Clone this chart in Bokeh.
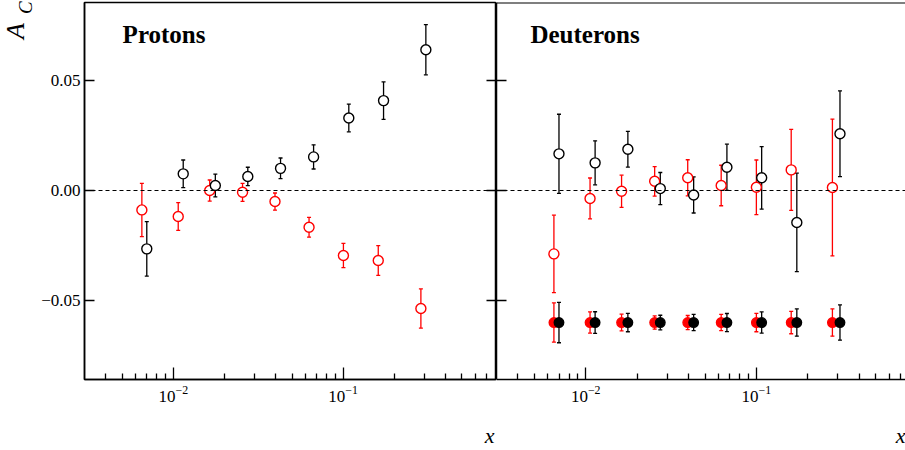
from bokeh.plotting import figure
from bokeh.layouts import row
from bokeh.models import (ColumnDataSource, Whisker, TeeHead, Span, Label, Range1d, Div,
                          FixedTicker, LinearAxis, LogAxis, CustomJSTickFormatter,
                          LogTickFormatter)
from bokeh.embed import file_html
from bokeh.resources import INLINE

# ---------------- data ----------------
prot_x_black = [0.00698, 0.01144, 0.01768, 0.02746, 0.0428, 0.0670, 0.108, 0.173, 0.307]
prot_y_black = [-0.0265, 0.0076, 0.0023, 0.0064, 0.0101, 0.0153, 0.0330, 0.0409, 0.0640]
prot_e_black = [0.0124, 0.0063, 0.0052, 0.0042, 0.0047, 0.0055, 0.0063, 0.0085, 0.0114]

prot_x_red = [0.00653, 0.01069, 0.01638, 0.02557, 0.0397, 0.0630, 0.1004, 0.161, 0.287]
prot_y_red = [-0.0088, -0.0118, 0.0000, -0.0008, -0.0050, -0.0167, -0.0295, -0.0318, -0.0536]
prot_e_red = [0.0121, 0.0063, 0.0048, 0.0041, 0.0039, 0.0045, 0.0055, 0.0068, 0.0089]

deut_x_black = [0.00697, 0.01135, 0.01766, 0.02735, 0.0429, 0.0672, 0.1074, 0.1726, 0.309]
deut_y_black = [0.0167, 0.0126, 0.0188, 0.0009, -0.0020, 0.0106, 0.0058, -0.0145, 0.0258]
deut_e_black = [0.0180, 0.0100, 0.0081, 0.0073, 0.0082, 0.0105, 0.0142, 0.0224, 0.0195]

deut_x_red = [0.00651, 0.0106, 0.01622, 0.02535, 0.0396, 0.0622, 0.1000, 0.160, 0.279]
deut_y_red = [-0.0288, -0.0036, -0.0003, 0.0042, 0.0058, 0.0023, 0.0015, 0.0094, 0.0014]
deut_e_red = [0.0176, 0.0093, 0.0073, 0.0067, 0.0082, 0.0092, 0.0124, 0.0184, 0.0311]

# systematic uncertainties (drawn at a fixed offset)
syst_y = [-0.06, -0.06, -0.06, -0.06, -0.06, -0.06, -0.06, -0.06, -0.06]
syst_e_red = [0.0089, 0.0048, 0.0038, 0.0030, 0.0032, 0.0037, 0.0042, 0.0051, 0.0062]
syst_e_black = [0.0092, 0.0049, 0.0042, 0.0033, 0.0037, 0.0041, 0.0048, 0.0062, 0.0080]

x_major_ticks = [0.01, 0.1]
x_minor_ticks = [0.004, 0.005, 0.006, 0.007, 0.008, 0.009,
                 0.02, 0.03, 0.04, 0.05, 0.06, 0.07, 0.08, 0.09,
                 0.2, 0.3, 0.4, 0.5, 0.6, 0.7, 0.8]
y_ticks = [-0.05, 0.0, 0.05]

panel_titles = ["Protons", "Deuterons"]
y_title_main = "A"
y_title_sub = "C"
x_title = "x"

# ---------------- style ----------------
SERIF = "Liberation Serif"
RED = "#ff0000"
BLACK = "#000000"
Y_MIN, Y_MAX = -0.0859, 0.0855
X_MIN = 0.003
H = 450
X_TITLE_AT = [0.73, 0.70]   # where the axis title "x" sits along each x axis

yfmt_code = "return (tick < -1e-9 ? '\\u2212' : '') + Math.abs(tick).toFixed(2);"


def errbars(p, xs, ys, es, color):
    src = ColumnDataSource(dict(x=xs, upper=[y + e for y, e in zip(ys, es)],
                                lower=[y - e for y, e in zip(ys, es)]))
    w = Whisker(source=src, base="x", upper="upper", lower="lower",
                line_color=color, line_width=1.3,
                upper_head=TeeHead(size=4, line_color=color, line_width=1.3),
                lower_head=TeeHead(size=4, line_color=color, line_width=1.3))
    p.add_layout(w)


def points(p, xs, ys, color, filled):
    src = ColumnDataSource(dict(x=xs, y=ys))
    p.scatter("x", "y", source=src, marker="circle", size=10 if not filled else 9.5,
              line_color=color, line_width=1.4,
              fill_color=color if filled else "white")


def style_common(p, title_at):
    p.toolbar_location = None
    p.xgrid.visible = False
    p.ygrid.visible = False
    p.background_fill_color = "white"
    p.border_fill_color = "white"
    p.xaxis.ticker = FixedTicker(ticks=x_major_ticks, minor_ticks=x_minor_ticks)
    p.xaxis.formatter = LogTickFormatter()
    p.xaxis.major_tick_in = 12
    p.xaxis.major_tick_out = 0
    p.xaxis.minor_tick_in = 6
    p.xaxis.minor_tick_out = 0
    p.xaxis.major_tick_line_width = 1.3
    p.xaxis.minor_tick_line_width = 1.3
    p.xaxis.major_label_text_font = SERIF
    p.xaxis.major_label_text_font_size = "17px"
    p.xaxis.major_label_text_color = BLACK
    p.xaxis.major_label_standoff = 6
    p.xaxis.axis_line_width = 1.5
    p.xaxis.axis_line_color = BLACK
    p.add_layout(Span(location=0, dimension="width", line_color=BLACK,
                      line_dash="4 3", line_width=1.1))
    # axis title "x" near the right end of the axis
    t_axis = LogAxis(ticker=FixedTicker(ticks=[title_at], minor_ticks=[]),
                     formatter=CustomJSTickFormatter(args=dict(t=x_title), code="return t;"),
                     axis_line_color=None, major_tick_line_color=None,
                     minor_tick_line_color=None, major_tick_in=0, major_tick_out=0,
                     minor_tick_in=0, minor_tick_out=0,
                     major_label_standoff=18, major_label_text_font=SERIF,
                     major_label_text_font_style="italic",
                     major_label_text_font_size="22px", major_label_text_color=BLACK)
    p.add_layout(t_axis, "below")


# ---------------- y-title strip (rotated A_C) ----------------
span_css = ("position:absolute;transform-origin:0 0;transform:rotate(-90deg);"
            "white-space:nowrap;font-family:'Liberation Serif';font-style:italic;color:#000;")
strip_html = (
    '<div style="position:relative;width:38px;height:%dpx;overflow:visible;">' % H
    + '<span style="%sleft:3.2px;top:39px;font-size:26px;line-height:26px;">%s</span>'
    % (span_css, y_title_main)
    + '<span style="%sleft:16.1px;top:13.5px;font-size:19px;line-height:19px;">%s</span>'
    % (span_css, y_title_sub)
    + '</div>'
)
strip = Div(text=strip_html, width=38, height=H, margin=0,
            styles={"overflow": "visible"})

# ---------------- left panel ----------------
left = figure(width=458, height=H, x_axis_type="log",
              x_range=Range1d(X_MIN, 0.8), y_range=Range1d(Y_MIN, Y_MAX),
              output_backend="svg", toolbar_location=None,
              min_border_left=44, min_border_right=0, min_border_top=2,
              min_border_bottom=71)
style_common(left, X_TITLE_AT[0])
left.outline_line_color = BLACK
left.outline_line_width = 1.5
left.outline_line_alpha = 1.0
left.yaxis.ticker = FixedTicker(ticks=y_ticks)
left.yaxis.formatter = CustomJSTickFormatter(code=yfmt_code)
left.yaxis.major_tick_in = 10
left.yaxis.major_tick_out = 0
left.yaxis.minor_tick_line_color = None
left.yaxis.major_tick_line_width = 1.5
left.yaxis.major_label_text_font = SERIF
left.yaxis.major_label_text_font_size = "17px"
left.yaxis.major_label_text_color = BLACK
left.yaxis.major_label_standoff = 4
left.yaxis.axis_line_width = 1.5
left.yaxis.axis_line_color = BLACK

rax = LinearAxis(ticker=FixedTicker(ticks=y_ticks),
                 formatter=CustomJSTickFormatter(code="return '';"),
                 major_tick_in=10, major_tick_out=0, minor_tick_line_color=None,
                 major_tick_line_width=1.5, major_label_standoff=0,
                 major_label_text_font_size="0px", axis_line_width=1.5)
left.add_layout(rax, "right")

errbars(left, prot_x_red, prot_y_red, prot_e_red, RED)
points(left, prot_x_red, prot_y_red, RED, False)
errbars(left, prot_x_black, prot_y_black, prot_e_black, BLACK)
points(left, prot_x_black, prot_y_black, BLACK, False)

left.add_layout(Label(x=0.00503, y=0.0709, text=panel_titles[0], text_font=SERIF,
                      text_font_style="bold", text_font_size="25px",
                      text_color=BLACK, text_align="left", text_baseline="alphabetic"))

# ---------------- right panel ----------------
right = figure(width=409, height=H, x_axis_type="log",
               x_range=Range1d(X_MIN, 0.748), y_range=Range1d(Y_MIN, Y_MAX),
               output_backend="svg", toolbar_location=None,
               min_border_left=0, min_border_right=0, min_border_top=2,
               min_border_bottom=71)
style_common(right, X_TITLE_AT[1])
right.outline_line_color = None
right.yaxis.ticker = FixedTicker(ticks=y_ticks)
right.yaxis.formatter = CustomJSTickFormatter(code="return '';")
right.yaxis.major_tick_in = 10
right.yaxis.major_tick_out = 0
right.yaxis.minor_tick_line_color = None
right.yaxis.major_tick_line_width = 1.5
right.yaxis.major_label_standoff = 0
right.yaxis.major_label_text_font_size = "0px"
right.yaxis.axis_line_width = 1.5
right.yaxis.axis_line_color = BLACK
right.add_layout(Span(location=Y_MAX, dimension="width", line_color=BLACK, line_width=2))

errbars(right, deut_x_red, deut_y_red, deut_e_red, RED)
points(right, deut_x_red, deut_y_red, RED, False)
errbars(right, deut_x_black, deut_y_black, deut_e_black, BLACK)
points(right, deut_x_black, deut_y_black, BLACK, False)

errbars(right, deut_x_red, syst_y, syst_e_red, RED)
points(right, deut_x_red, syst_y, RED, True)
errbars(right, deut_x_black, syst_y, syst_e_black, BLACK)
points(right, deut_x_black, syst_y, BLACK, True)

right.add_layout(Label(x=0.00474, y=0.0709, text=panel_titles[1], text_font=SERIF,
                       text_font_style="bold", text_font_size="25px",
                       text_color=BLACK, text_align="left", text_baseline="alphabetic"))

layout = row(strip, left, right)
open("out.html", "w").write(file_html(layout, INLINE))
